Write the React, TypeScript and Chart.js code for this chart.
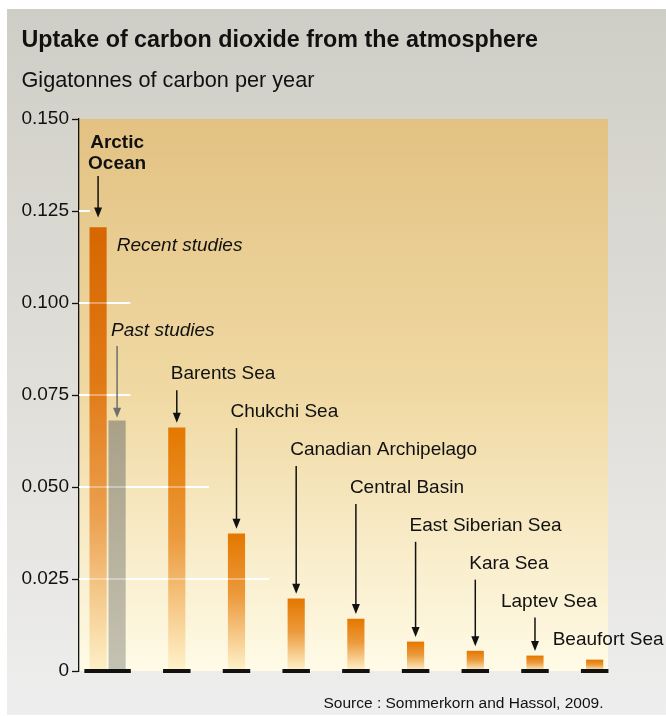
import { useEffect, useRef } from "react";
import { Chart, registerables } from "chart.js";

Chart.register(...registerables);

// ---- data -------------------------------------------------------------
const categories = [
  "Arctic Ocean",
  "Barents Sea",
  "Chukchi Sea",
  "Canadian Archipelago",
  "Central Basin",
  "East Siberian Sea",
  "Kara Sea",
  "Laptev Sea",
  "Beaufort Sea",
];
const recentStudies = [0.1205, 0.0661, 0.0373, 0.0196, 0.0141, 0.0079, 0.0054, 0.0041, 0.003];
const pastStudies: (number | null)[] = [0.068, null, null, null, null, null, null, null, null];
const yTicks = [0, 0.025, 0.05, 0.075, 0.1, 0.125, 0.15];
const yTickLabels = ["0", "0.025", "0.050", "0.075", "0.100", "0.125", "0.150"];

const titleText = "Uptake of carbon dioxide from the atmosphere";
const subtitleText = "Gigatonnes of carbon per year";
const sourceText = "Source : Sommerkorn and Hassol, 2009.";
const recentLabel = "Recent studies";
const pastLabel = "Past studies";

// ---- styling -------------------------------------------------------------
const FONT = '"Liberation Sans", Arial, Helvetica, sans-serif';
const INK = "#111111";
const arcticStops: [number, string][] = [
  [0, "#d76700"],
  [0.35, "#e07a16"],
  [0.65, "#eca04f"],
  [1, "#fdf0c6"],
];
const regionStops: [number, string][] = [
  [0, "#e47800"],
  [0.45, "#ec9a3c"],
  [1, "#fff3cc"],
];
const pastStops: [number, string][] = [
  [0, "#a9a087"],
  [1, "#c4c2b2"],
];
const labelNudge: Record<string, number> = { "Laptev Sea": -28, "Beaufort Sea": -36 };

function barGradient(ctx: any, stops: [number, string][]) {
  const chart = ctx.chart;
  const ys = chart.scales && chart.scales.y;
  const raw = ctx.raw;
  const v = raw && typeof raw === "object" ? raw.y : raw;
  if (!ys || v == null) return stops[0][1];
  const top = ys.getPixelForValue(v);
  const bottom = ys.getPixelForValue(0);
  if (!isFinite(top) || !isFinite(bottom) || Math.abs(bottom - top) < 0.5) return stops[0][1];
  const g = chart.ctx.createLinearGradient(0, top, 0, bottom);
  stops.forEach(([o, c]) => g.addColorStop(o, c));
  return g;
}

function drawArrow(ctx: CanvasRenderingContext2D, x: number, y1: number, tip: number, color: string) {
  ctx.save();
  ctx.strokeStyle = color;
  ctx.fillStyle = color;
  ctx.lineWidth = 1.5;
  ctx.beginPath();
  ctx.moveTo(x, y1);
  ctx.lineTo(x, tip - 8);
  ctx.stroke();
  ctx.beginPath();
  ctx.moveTo(x - 4, tip - 10);
  ctx.lineTo(x + 4, tip - 10);
  ctx.lineTo(x, tip);
  ctx.closePath();
  ctx.fill();
  ctx.restore();
}

function barBox(el: any) {
  return { left: el.x - el.width / 2, right: el.x + el.width / 2, top: el.y };
}

const plotBackground = {
  id: "plotBackground",
  beforeDraw(chart: any) {
    const { ctx, chartArea: a } = chart;
    const g = ctx.createLinearGradient(0, a.top, 0, a.bottom);
    g.addColorStop(0, "#e3c283");
    g.addColorStop(0.5, "#f0d9a3");
    g.addColorStop(1, "#fffbe7");
    ctx.save();
    ctx.fillStyle = g;
    ctx.fillRect(a.left, a.top, a.right - a.left, a.bottom - a.top);
    ctx.restore();
  },
};

function gridEnds(chart: any) {
  const ys = chart.scales.y;
  const metas = [chart.getDatasetMeta(0), chart.getDatasetMeta(1)];
  const values = [recentStudies, pastStudies];
  const out: { y: number; end: number }[] = [];
  const first = barBox(metas[0].data[0]);
  yTicks.forEach((v) => {
    if (v <= 0 || v >= 0.15) return;
    let maxRight = -Infinity;
    metas.forEach((m, d) => {
      m.data.forEach((el: any, i: number) => {
        const val = values[d][i];
        if (val != null && val >= v) maxRight = Math.max(maxRight, barBox(el).right);
      });
    });
    const end = maxRight > -Infinity ? maxRight + 24 : first.left;
    out.push({ y: ys.getPixelForValue(v), end });
  });
  return out;
}

const whiteGrid = {
  id: "whiteGrid",
  beforeDatasetsDraw(chart: any) {
    const { ctx, chartArea: a } = chart;
    ctx.save();
    ctx.strokeStyle = "#ffffff";
    ctx.lineWidth = 2;
    gridEnds(chart).forEach(({ y, end }) => {
      ctx.beginPath();
      ctx.moveTo(a.left, y);
      ctx.lineTo(end, y);
      ctx.stroke();
    });
    ctx.restore();
  },
  afterDatasetsDraw(chart: any) {
    const { ctx, chartArea: a } = chart;
    ctx.save();
    ctx.strokeStyle = "rgba(255,255,255,0.35)";
    ctx.lineWidth = 2;
    gridEnds(chart).forEach(({ y, end }) => {
      ctx.beginPath();
      ctx.moveTo(a.left, y);
      ctx.lineTo(end, y);
      ctx.stroke();
    });
    ctx.restore();
  },
};

const blackBases = {
  id: "blackBases",
  afterDatasetsDraw(chart: any) {
    const { ctx } = chart;
    const zero = chart.scales.y.getPixelForValue(0);
    const metas = [chart.getDatasetMeta(0), chart.getDatasetMeta(1)];
    const values = [recentStudies, pastStudies];
    ctx.save();
    ctx.fillStyle = INK;
    categories.forEach((_, i) => {
      let l = Infinity;
      let r = -Infinity;
      metas.forEach((m, d) => {
        if (values[d][i] == null) return;
        const b = barBox(m.data[i]);
        l = Math.min(l, b.left);
        r = Math.max(r, b.right);
      });
      if (l < r) ctx.fillRect(l - 5.5, zero - 2, r - l + 11, 4);
    });
    ctx.restore();
  },
};

const annotations = {
  id: "annotations",
  afterDraw(chart: any) {
    const { ctx } = chart;
    const ys = chart.scales.y;
    const xs = chart.scales.x;
    const m0 = chart.getDatasetMeta(0);
    const m1 = chart.getDatasetMeta(1);
    ctx.save();
    ctx.fillStyle = INK;
    ctx.textBaseline = "alphabetic";

    // title, subtitle, source
    ctx.textAlign = "left";
    ctx.font = `bold 23.3px ${FONT}`;
    ctx.fillText(titleText, 21.5, 46.7);
    ctx.font = `21.7px ${FONT}`;
    ctx.fillText(subtitleText, 21.5, 86.7);
    ctx.textAlign = "right";
    ctx.font = `15.5px ${FONT}`;
    ctx.fillText(sourceText, 603.5, 708);

    // Arctic Ocean group
    const cx = xs.getPixelForValue(0);
    const rec = m0.data[0];
    const past = m1.data[0];
    ctx.textAlign = "center";
    ctx.font = `bold 19px ${FONT}`;
    const words = categories[0].split(" ");
    ctx.fillText(words[0], cx, ys.getPixelForValue(0.1422));
    ctx.fillText(words[1], cx, ys.getPixelForValue(0.1363));
    drawArrow(ctx, rec.x, ys.getPixelForValue(0.1345), rec.y - 10, INK);

    ctx.textAlign = "left";
    ctx.font = `italic 19px ${FONT}`;
    ctx.fillStyle = INK;
    ctx.fillText(recentLabel, barBox(rec).right + 10.4, rec.y + 23.3);
    ctx.fillText(pastLabel, past.x - 6, ys.getPixelForValue(0.091));
    drawArrow(ctx, past.x, ys.getPixelForValue(0.0883), past.y - 3, "#6f6f6f");

    // regional seas
    ctx.font = `19px ${FONT}`;
    ctx.fillStyle = INK;
    for (let i = 1; i < categories.length; i++) {
      const el = m0.data[i];
      const name = categories[i];
      const baseline = ys.getPixelForValue(0.0793 - 0.0103 * (i - 1));
      const left = el.x - 6 + (labelNudge[name] || 0);
      ctx.fillText(name, left, baseline);
      const start = baseline + 11;
      const tip = el.y - 5;
      if (tip - start > 14) drawArrow(ctx, el.x, start, tip, INK);
    }
    ctx.restore();
  },
};

export default function App() {
  const ref = useRef<HTMLCanvasElement | null>(null);

  useEffect(() => {
    if (!ref.current) return;
    const spacer = pastStudies.map((v) => (v == null ? null : 0));
    const common = {
      barThickness: 19,
      maxBarThickness: 16.5,
      skipNull: true,
      borderWidth: 0,
    };
    const chart = new Chart(ref.current, {
      type: "bar",
      data: {
        datasets: [
          {
            label: recentLabel,
            data: recentStudies.map((v, i) => ({ x: i, y: v })),
            backgroundColor: (c: any) => barGradient(c, c.dataIndex === 0 ? arcticStops : regionStops),
            ...common,
          },
          {
            label: pastLabel,
            data: pastStudies.map((v, i) => ({ x: i, y: v })),
            backgroundColor: (c: any) => barGradient(c, pastStops),
            ...common,
          },
          {
            label: "group spacer",
            data: spacer.map((v, i) => ({ x: i, y: v })),
            backgroundColor: "rgba(0,0,0,0)",
            ...common,
          },
        ] as any,
      },
      options: {
        animation: false,
        responsive: false,
        maintainAspectRatio: false,
        devicePixelRatio: 1,
        events: [],
        layout: { padding: { left: 0, top: 119, right: 58, bottom: 45 } },
        plugins: {
          legend: { display: false },
          tooltip: { enabled: false },
          title: { display: false },
        },
        scales: {
          x: {
            type: "linear",
            display: false,
            offset: false,
            min: -0.638,
            max: 8.223,
            grid: { display: false, offset: false },
          },
          y: {
            min: 0,
            max: 0.15,
            afterFit: (s: any) => {
              s.width = 79;
            },
            afterBuildTicks: (s: any) => {
              s.ticks = yTicks.map((v) => ({ value: v }));
            },
            ticks: {
              callback: (_v: any, i: number) => yTickLabels[i],
              font: { family: FONT, size: 19 },
              color: INK,
              padding: 3,
            },
            grid: {
              drawOnChartArea: false,
              drawTicks: true,
              tickLength: 7,
              tickColor: INK,
              tickWidth: 1.3,
            },
            border: { display: true, color: INK, width: 1.3 },
          },
        },
      } as any,
      plugins: [plotBackground, whiteGrid, blackBases, annotations],
    });
    return () => chart.destroy();
  }, []);

  return (
    <div style={{ position: "absolute", left: 0, top: 0, width: 666, height: 716, background: "#ffffff", overflow: "hidden" }}>
      <div
        style={{
          position: "absolute",
          left: 7,
          top: 9,
          width: 659,
          height: 706,
          background: "linear-gradient(180deg, #cfcec6 0%, #dedcd6 45%, #eeeeee 100%)",
        }}
      />
      <canvas
        ref={ref}
        width={666}
        height={716}
        style={{ position: "absolute", left: 0, top: 0, width: 666, height: 716, display: "block" }}
      />
    </div>
  );
}
